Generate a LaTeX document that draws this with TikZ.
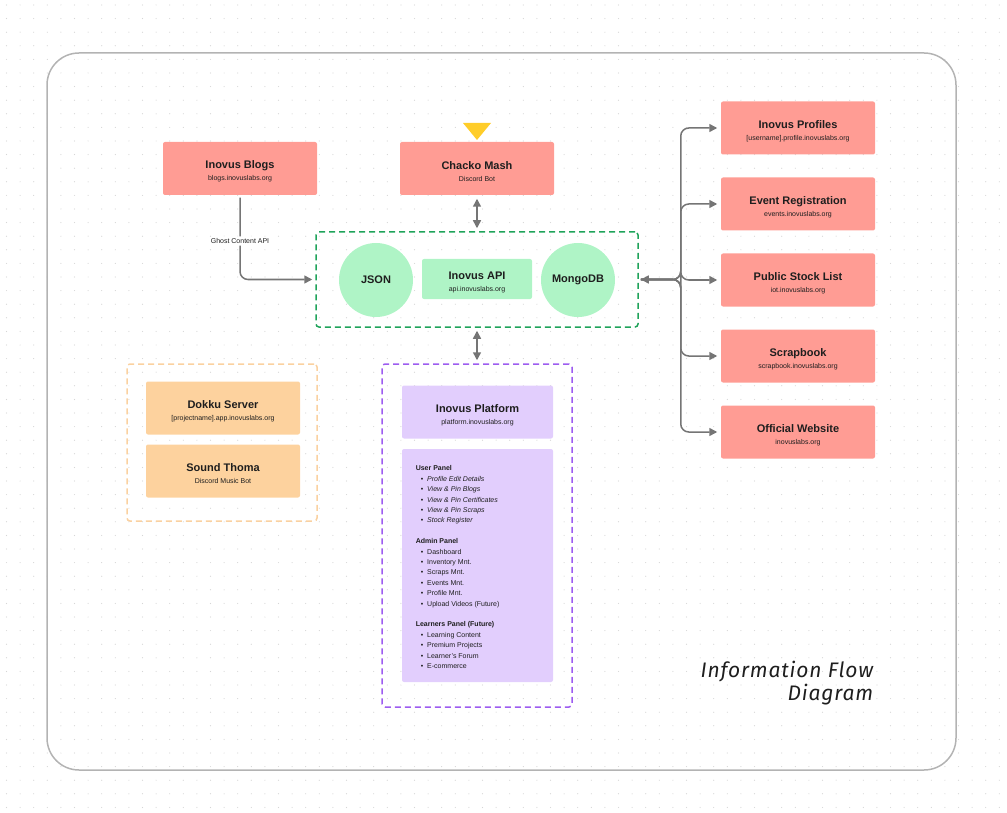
\documentclass[tikz,border=0pt]{standalone}
\usepackage{fontspec}
\setmainfont{Liberation Sans}
\newfontfamily\handfont[LetterSpace=4]{Fira Sans}
\usetikzlibrary{arrows.meta}

\definecolor{salmon}{HTML}{FF9C94}
\definecolor{mint}{HTML}{AFF4C6}
\definecolor{mintline}{HTML}{1FA35A}
\definecolor{peach}{HTML}{FDD29E}
\definecolor{peachline}{HTML}{FAD1A0}
\definecolor{lilac}{HTML}{E2CEFD}
\definecolor{lilacline}{HTML}{9D5CF0}
\definecolor{ink}{HTML}{1E1E1E}
\definecolor{wire}{HTML}{757575}
\definecolor{frameline}{HTML}{B3B3B3}
\definecolor{gridc}{HTML}{D6D6D6}
\definecolor{flag}{HTML}{FFCD29}

\newcommand{\lbl}[2]{{\fontsize{11}{12}\selectfont\bfseries\rule{0pt}{14pt}#1}\\[0pt]{\fontsize{7}{8}\selectfont #2}}

\tikzset{every picture/.style={line width=1.5pt}}
\tikzset{tip/.tip={Triangle[length=8pt,width=8pt]}}
\tikzset{
  box/.style={rounded corners=2pt, minimum width=154pt, minimum height=53pt, align=center, inner sep=0pt, text=ink},
  redbox/.style={box, fill=salmon},
  peachbox/.style={box, fill=peach},
  lilacbox/.style={box, fill=lilac, minimum width=151pt},
  blob/.style={circle, fill=mint, minimum size=74pt, inner sep=0pt, text=ink, font=\fontsize{11}{12}\selectfont\bfseries},
  group/.style={draw, rounded corners=3pt, dash pattern=on 6pt off 4pt, inner sep=0pt},
  flow/.style={draw=wire, -{tip}},
  twoway/.style={draw=wire, {tip}-{tip}}
}

\begin{document}
\begin{tikzpicture}[x=1pt,y=-1pt]
\useasboundingbox (0,0) rectangle (1007,813);
\foreach \i in {0,...,73}
  \foreach \j in {0,...,59}
    \fill[gridc] ({6.5+13.6*\i},{5+13.6*\j}) circle (0.6);
\draw[frameline, rounded corners=32pt] (47,53) rectangle (956,770);

\node[redbox] (blogs) at (240,168.5) {\lbl{Inovus Blogs}{blogs.inovuslabs.org}};
\node[redbox] (chacko) at (477,168.5) {\lbl{Chacko Mash}{Discord Bot}};
\fill[flag] (463,123) -- (491,123) -- (477,140) -- cycle;

\node[group, draw=mintline, minimum width=322pt, minimum height=95pt] (apibox) at (477,279.5) {};
\node[blob] (json) at (376,280) {JSON};
\node[box, fill=mint, minimum width=110pt, minimum height=40pt] (api) at (477,279) {\lbl{Inovus API}{api.inovuslabs.org}};
\node[blob] (mongo) at (578,280) {MongoDB};

\node[redbox] (profiles) at (798,128) {\lbl{Inovus Profiles}{[username].profile.inovuslabs.org}};
\node[redbox] (events) at (798,204) {\lbl{Event Registration}{events.inovuslabs.org}};
\node[redbox] (stock) at (798,280) {\lbl{Public Stock List}{iot.inovuslabs.org}};
\node[redbox] (scrap) at (798,356) {\lbl{Scrapbook}{scrapbook.inovuslabs.org}};
\node[redbox] (website) at (798,432) {\lbl{Official Website}{inovuslabs.org}};

\node[group, draw=peachline, minimum width=190pt, minimum height=157pt] (hosting) at (222,442.5) {};
\node[peachbox] (dokku) at (223,408) {\lbl{Dokku Server}{[projectname].app.inovuslabs.org}};
\node[peachbox] (thoma) at (223,471) {\lbl{Sound Thoma}{Discord Music Bot}};

\node[group, draw=lilacline, minimum width=190pt, minimum height=343pt] (platdash) at (477,535.5) {};
\node[lilacbox] (platform) at (477.5,412) {\lbl{Inovus Platform}{platform.inovuslabs.org}};
\node[lilacbox, minimum height=233pt] (panel) at (477.5,565.5) {};
\node[anchor=north west, align=left, inner sep=0pt, text=ink, font=\fontsize{7}{10.4}\selectfont] (paneltext) at (415,465) {%
\textbf{User Panel}\\
\hspace{5pt}\textbullet\hspace{4pt}\textit{Profile Edit Details}\\
\hspace{5pt}\textbullet\hspace{4pt}\textit{View \& Pin Blogs}\\
\hspace{5pt}\textbullet\hspace{4pt}\textit{View \& Pin Certificates}\\
\hspace{5pt}\textbullet\hspace{4pt}\textit{View \& Pin Scraps}\\
\hspace{5pt}\textbullet\hspace{4pt}\textit{Stock Register}\\[10.4pt]
\textbf{Admin Panel}\\
\hspace{5pt}\textbullet\hspace{4pt}Dashboard\\
\hspace{5pt}\textbullet\hspace{4pt}Inventory Mnt.\\
\hspace{5pt}\textbullet\hspace{4pt}Scraps Mnt.\\
\hspace{5pt}\textbullet\hspace{4pt}Events Mnt.\\
\hspace{5pt}\textbullet\hspace{4pt}Profile Mnt.\\
\hspace{5pt}\textbullet\hspace{4pt}Upload Videos (Future)\\[10.4pt]
\textbf{Learners Panel (Future)}\\
\hspace{5pt}\textbullet\hspace{4pt}Learning Content\\
\hspace{5pt}\textbullet\hspace{4pt}Premium Projects\\
\hspace{5pt}\textbullet\hspace{4pt}Learner's Forum\\
\hspace{5pt}\textbullet\hspace{4pt}E-commerce};

\draw[flow, rounded corners=8pt, shorten >=3pt, shorten <=2pt] (blogs.south) |- (apibox.west)
  node[pos=0.27, fill=white, text=ink, inner sep=2pt, font=\fontsize{7}{8}\selectfont] (ghost) {Ghost Content API};
\draw[twoway, shorten >=3pt, shorten <=3pt] (chacko.south) -- (apibox.north);
\draw[twoway, shorten >=3pt, shorten <=3pt] (apibox.south) -- (platdash.north);
\draw[wire, {tip}-, shorten <=2pt] (apibox.east) -- ++(30,0);
\foreach \n in {profiles,events,stock,scrap,website}
  \draw[flow, rounded corners=8pt, shorten <=2pt, shorten >=3pt] (apibox.east) -- ++(42,0) |- (\n.west);

\node[anchor=north east, align=right, inner sep=0pt, text=ink, font=\handfont\itshape\fontsize{21}{23}\selectfont] (title) at (874,660) {Information Flow\\Diagram};
\end{tikzpicture}
\end{document}
